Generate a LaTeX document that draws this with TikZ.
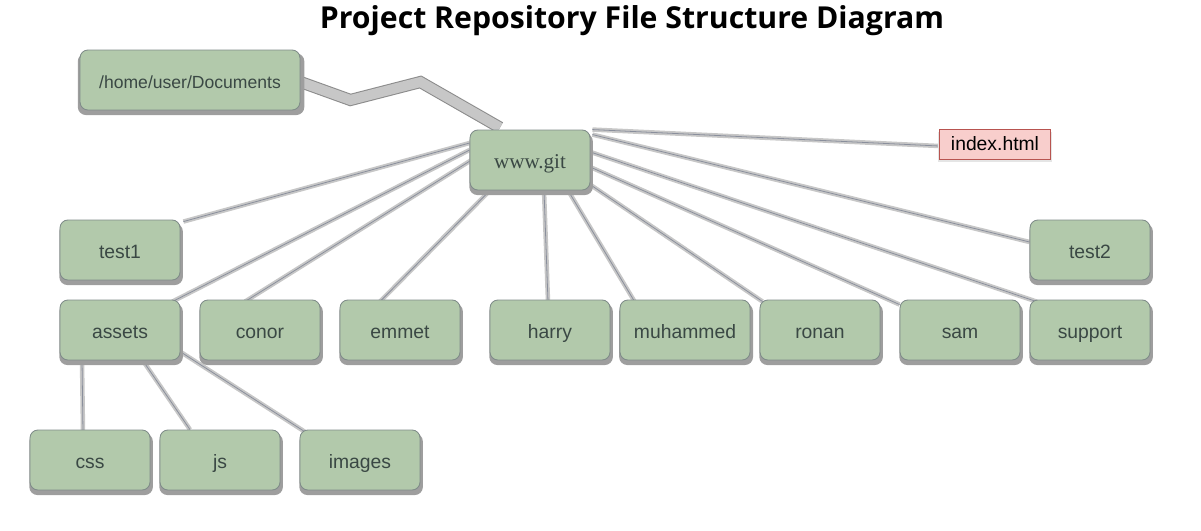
\documentclass[tikz,border=0pt]{standalone}
\usepackage{fontspec}
\setmainfont{Liberation Serif}
\setsansfont{Liberation Sans}
\newfontfamily\titlefont{Open Sans}
\usetikzlibrary{shadows,backgrounds}
\definecolor{boxfill}{HTML}{B2C9AB}
\definecolor{boxline}{HTML}{7F8C89}
\definecolor{boxtext}{HTML}{3A4844}
\definecolor{pinkfill}{HTML}{F8CECC}
\definecolor{pinkline}{HTML}{B85450}
\definecolor{linecol}{HTML}{8A8F9C}
\tikzset{
  dirbox/.style={rectangle, rounded corners=4.5pt, draw=boxline, line width=0.5pt, fill=boxfill,
    minimum width=2.4cm, minimum height=1.2cm, inner sep=0pt, text=boxtext,
    text height=9.6pt, text depth=0pt,
    font=\sffamily\fontsize{11pt}{13pt}\selectfont,
    general shadow={fill=black!38, shadow xshift=0.6pt, shadow yshift=-2.3pt, shadow scale=1.03}},
  filebox/.style={rectangle, draw=pinkline, line width=0.5pt, fill=pinkfill,
    minimum width=2.22cm, minimum height=0.6cm, inner sep=0pt, text=black,
    font=\sffamily\fontsize{11pt}{13pt}\selectfont,
    general shadow={fill=black!10, shadow xshift=0pt, shadow yshift=-1.7pt, shadow scale=1.02}},
  conn/.style={draw=linecol, line width=0.45pt, preaction={draw=black!22, line width=2.56pt}},
  wideconn/.style={draw=black!45, line width=0.6pt, double=black!22, double distance=5.7pt, line join=miter},
}
\begin{document}
\begin{tikzpicture}[x=0.02cm, y=-0.02cm]
\useasboundingbox (0,0) rectangle (1201,531);
\node[font=\titlefont\bfseries\fontsize{17.2pt}{20pt}\selectfont] (title) at (632,21) {Project Repository File Structure Diagram};

% nodes
\node[dirbox, minimum width=4.4cm, font=\sffamily\fontsize{10pt}{12pt}\selectfont] (docs) at (190,80) {/home/user/Documents};
\node[dirbox, font=\rmfamily\fontsize{12pt}{14pt}\selectfont] (git) at (530,160) {www.git};
\node[filebox] (index) at (995,144) {index.html};
\node[dirbox] (test1) at (120,250) {test1};
\node[dirbox] (test2) at (1090,250) {test2};
\node[dirbox] (assets) at (120,330) {assets};
\node[dirbox] (conor) at (260,330) {conor};
\node[dirbox] (emmet) at (400,330) {emmet};
\node[dirbox] (harry) at (550,330) {harry};
\node[dirbox, minimum width=2.6cm] (muhammed) at (685,330) {muhammed};
\node[dirbox] (ronan) at (820,330) {ronan};
\node[dirbox] (sam) at (960,330) {sam};
\node[dirbox] (support) at (1090,330) {support};
\node[dirbox] (css) at (90,460) {css};
\node[dirbox] (js) at (220,460) {js};
\node[dirbox] (images) at (360,460) {images};

% connector end points, relative to the nodes
\coordinate (dA) at ([shift={(0,2)}]docs.east);
\coordinate (dB) at ([shift={(50,20)}]docs.east);
\coordinate (dC) at ([shift={(120,2)}]docs.east);
\coordinate (dD) at ([shift={(-30,-2)}]git.north);

\coordinate (g1) at ([shift={(0,-17)}]git.west);
\coordinate (g2) at ([shift={(0,-10)}]git.west);
\coordinate (g3) at ([shift={(2,0)}]git.west);
\coordinate (g4) at ([shift={(-40,0)}]git.south);
\coordinate (g5) at ([shift={(14,0)}]git.south);
\coordinate (g6) at ([shift={(38,0)}]git.south);
\coordinate (g7) at ([shift={(-2,-7)}]git.south east);
\coordinate (g8) at ([shift={(2,8)}]git.east);
\coordinate (g9) at ([shift={(0,-8)}]git.east);
\coordinate (g10) at ([shift={(2,5)}]git.north east);
\coordinate (g11) at ([shift={(2,0)}]git.north east);

\coordinate (t1) at ([shift={(3,2)}]test1.north east);
\coordinate (as) at ([shift={(-8,2)}]assets.north east);
\coordinate (co) at ([shift={(-15,2)}]conor.north);
\coordinate (em) at ([shift={(-20,2)}]emmet.north);
\coordinate (ha) at ([shift={(-2,2)}]harry.north);
\coordinate (mu) at ([shift={(15,2)}]muhammed.north west);
\coordinate (ro) at ([shift={(3,2)}]ronan.north west);
\coordinate (sa) at ([shift={(0,5)}]sam.north west);
\coordinate (su) at ([shift={(7,2)}]support.north west);
\coordinate (t2) at ([shift={(0,-8)}]test2.west);
\coordinate (ix) at ([shift={(0,2)}]index.west);

\coordinate (a1) at ([shift={(-38,0)}]assets.south);
\coordinate (a2) at ([shift={(20,-4)}]assets.south);
\coordinate (a3) at ([shift={(1,-8)}]assets.south east);
\coordinate (c1) at ([shift={(-7,2)}]css.north);
\coordinate (j1) at ([shift={(-30,0)}]js.north);
\coordinate (i1) at ([shift={(5,2)}]images.north west);

\begin{scope}[on background layer]
\draw[wideconn] (dA) -- (dB) -- (dC) -- (dD);
\foreach \s/\e in {g1/t1, g2/as, g3/co, g4/em, g5/ha, g6/mu, g7/ro, g8/sa, g9/su, g10/t2, g11/ix, a1/c1, a2/j1, a3/i1}
  \draw[conn] (\s) -- (\e);
\end{scope}
\end{tikzpicture}
\end{document}
